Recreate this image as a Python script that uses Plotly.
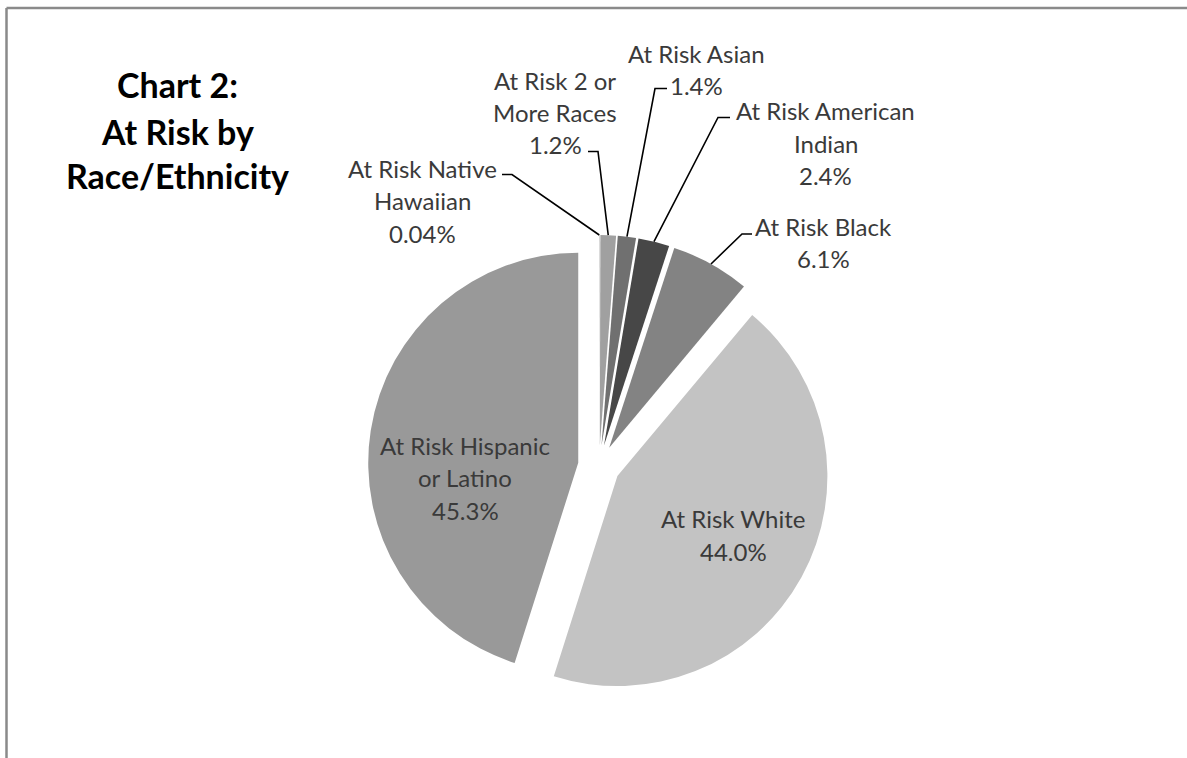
import math
import plotly.graph_objects as go

# ---------------- data ----------------
categories = [
    "At Risk Native Hawaiian",
    "At Risk 2 or More Races",
    "At Risk Asian",
    "At Risk American Indian",
    "At Risk Black",
    "At Risk White",
    "At Risk Hispanic or Latino",
]
percent_values = [0.04, 1.2, 1.4, 2.4, 6.1, 44.0, 45.3]
percent_decimals = [2, 1, 1, 1, 1, 1, 1]
label_lines = [
    ["At Risk Native", "Hawaiian"],
    ["At Risk 2 or", "More Races"],
    ["At Risk Asian"],
    ["At Risk American", "Indian"],
    ["At Risk Black"],
    ["At Risk White"],
    ["At Risk Hispanic", "or Latino"],
]
title_lines = ["Chart 2:", "At Risk by", "Race/Ethnicity"]

# ---------------- style / layout ----------------
slice_colors = ["#b8b8b8", "#a0a0a0", "#707070", "#474747", "#838383", "#c3c3c3", "#999999"]
W, H = 1187, 758
CX, CY, R, PULL = 599, 466, 210, 0.1
LABEL_FONT = "Lato"
LABEL_SIZE = 24
LINE_PITCH = 32.5
LABEL_COLOR = "#3a3a3a"

# label layout: (center x, first line center y, leader start x, elbow x, elbow y) ; None => inside label
label_layout = [
    (422, 168.0, 502, 512, 174.5),
    (555, 80.0, 588, 598, 151.5),
    (696, 53.0, 667, 655, 88.5),
    (825.5, 110.5, 730, 718, 117.5),
    (823, 226.0, 752, 742, 234.0),
    (733, 518.5, None, None, None),
    (465, 445.0, None, None, None),
]


def px(x):
    return x / W


def py(y):
    return 1 - y / H


half = R * (1 + PULL)
domain_x = [px(CX - half), px(CX + half)]
domain_y = [py(CY + half), py(CY - half)]

fig = go.Figure(
    go.Pie(
        labels=categories,
        values=percent_values,
        sort=False,
        direction="clockwise",
        rotation=0,
        pull=[PULL] * len(percent_values),
        marker=dict(colors=slice_colors, line=dict(width=0)),
        textinfo="none",
        hoverinfo="label+value",
        domain=dict(x=domain_x, y=domain_y),
        showlegend=False,
    )
)

annotations = []
shapes = []

total = sum(percent_values)
cum = 0.0
for i, v in enumerate(percent_values):
    mid_frac = (cum + v / 2) / total
    cum += v
    theta = 2 * math.pi * mid_frac
    # outer arc midpoint of the pulled slice
    ox = CX + R * (1 + PULL) * math.sin(theta)
    oy = CY - R * (1 + PULL) * math.cos(theta)

    pct = f"{v:.{percent_decimals[i]}f}%"
    lines = label_lines[i] + [pct]
    lx, ly0, sx, ex, ey = label_layout[i]
    for j, t in enumerate(lines):
        annotations.append(dict(
            x=px(lx), y=py(ly0 + j * LINE_PITCH), xref="paper", yref="paper",
            text=t, showarrow=False, xanchor="center", yanchor="middle",
            font=dict(family=LABEL_FONT, size=LABEL_SIZE, color=LABEL_COLOR),
        ))
    if sx is not None:
        path = f"M {px(sx)},{py(ey)} L {px(ex)},{py(ey)} L {px(ox)},{py(oy)}"
        shapes.append(dict(type="path", xref="paper", yref="paper", path=path,
                           line=dict(color="#000000", width=1.6)))

# title
TITLE_X = 177
title_y = [84.5, 131.5, 175.5]
for t, yy in zip(title_lines, title_y):
    annotations.append(dict(
        x=px(TITLE_X), y=py(yy), xref="paper", yref="paper", text=f"<b>{t}</b>",
        showarrow=False, xanchor="center", yanchor="middle",
        font=dict(family=LABEL_FONT, size=34, color="#000000"),
    ))

# chart frame (top and left edges visible)
frame_color = "#8a8a8a"
shapes.append(dict(type="line", xref="paper", yref="paper", x0=px(6.5), y0=py(8), x1=px(W + 5), y1=py(8),
                   line=dict(color=frame_color, width=2.5)))
shapes.append(dict(type="line", xref="paper", yref="paper", x0=px(6.5), y0=py(8), x1=px(6.5), y1=py(H + 5),
                   line=dict(color=frame_color, width=2.5)))

fig.update_layout(
    width=W, height=H, autosize=False,
    margin=dict(l=0, r=0, t=0, b=0),
    paper_bgcolor="#ffffff", plot_bgcolor="#ffffff",
    annotations=annotations, shapes=shapes,
)

fig.write_html("out.html")
